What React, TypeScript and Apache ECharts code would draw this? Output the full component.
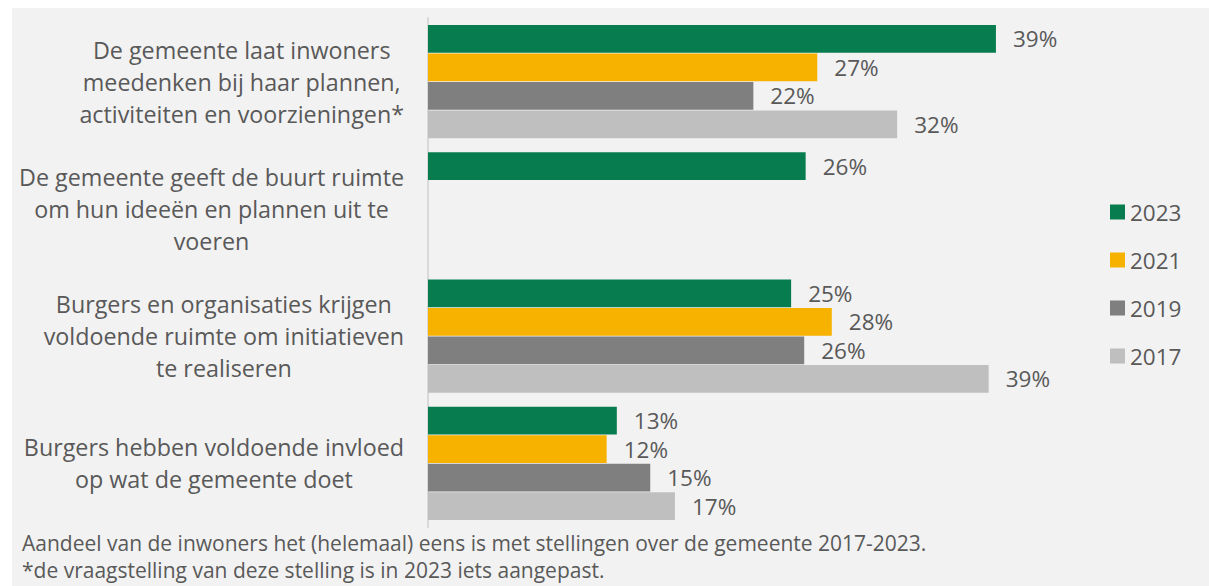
import React, { useEffect, useRef } from "react";
import * as echarts from "echarts";

const categories: string[] = [
  "De gemeente laat inwoners\nmeedenken bij haar plannen,\nactiviteiten en voorzieningen*",
  "De gemeente geeft de buurt ruimte\nom hun ideeën en plannen uit te\nvoeren",
  "Burgers en organisaties krijgen\nvoldoende ruimte om initiatieven\nte realiseren",
  "Burgers hebben voldoende invloed\nop wat de gemeente doet",
];

const years: string[] = ["2023", "2021", "2019", "2017"];
const values2023: (number | null)[] = [39.1, 26.0, 25.0, 13.0];
const values2021: (number | null)[] = [26.8, null, 27.8, 12.3];
const values2019: (number | null)[] = [22.4, null, 25.9, 15.3];
const values2017: (number | null)[] = [32.3, null, 38.6, 17.0];
const colors: string[] = ["#077C4E", "#F7B200", "#7F7F7F", "#BFBFBF"];

const footnotes: string[] = [
  "Aandeel van de inwoners het (helemaal) eens is met stellingen over de gemeente 2017-2023.",
  "*de vraagstelling van deze stelling is in 2023 iets aangepast.",
];

const FONT = "Open Sans";
const TEXT = "#595959";

export default function App() {
  const ref = useRef<HTMLDivElement>(null);
  useEffect(() => {
    if (!ref.current) return;
    const chart = echarts.init(ref.current, undefined, { renderer: "svg" });
    const allSeries = [values2023, values2021, values2019, values2017];
    chart.setOption({
      animation: false,
      backgroundColor: "#ffffff",
      textStyle: { fontFamily: FONT },
      graphic: [
        {
          type: "rect",
          z: -10,
          silent: true,
          shape: { x: 12, y: 8, width: 1197, height: 578 },
          style: { fill: "#F2F2F2" },
        },
        ...footnotes.map((t, i) => ({
          type: "text",
          left: 22,
          top: 529 + i * 27,
          style: { text: t, fill: TEXT, fontSize: 21, lineHeight: 27, fontFamily: FONT },
        })),
      ],
      legend: {
        data: years,
        orient: "vertical",
        left: 1105,
        top: 195,
        icon: "rect",
        itemWidth: 15,
        itemHeight: 15,
        itemGap: 24,
        textStyle: { color: TEXT, fontSize: 22.5, fontFamily: FONT, lineHeight: 24 },
      },
      grid: { left: 428, top: 18, bottom: 59, right: 200, containLabel: false },
      xAxis: {
        type: "value",
        min: 0,
        max: 40,
        show: false,
      },
      yAxis: {
        type: "category",
        inverse: true,
        data: categories,
        axisLine: { show: true, lineStyle: { color: "#D9D9D9", width: 2 } },
        axisTick: { show: false },
        axisLabel: {
          margin: 24,
          formatter: (v: string) =>
            v
              .split("\n")
              .map((l) => `{c|${l}}`)
              .join("\n"),
          rich: {
            c: {
              align: "center",
              fontSize: 23.3,
              lineHeight: 32,
              color: TEXT,
              fontFamily: FONT,
            },
          },
        },
      },
      series: years.map((y, i) => ({
        name: y,
        type: "bar",
        data: allSeries[i],
        barCategoryGap: "11%",
        barGap: "3%",
        itemStyle: { color: colors[i] },
        label: {
          show: true,
          position: "right",
          distance: 17,
          color: TEXT,
          fontSize: 22.5,
          fontFamily: FONT,
          formatter: (p: any) => (p.value == null ? "" : `${Math.round(p.value)}%`),
        },
      })),
    });
    return () => chart.dispose();
  }, []);
  return (
    <div
      ref={ref}
      style={{ position: "fixed", left: 0, top: 0, width: 1209, height: 586 }}
    />
  );
}
